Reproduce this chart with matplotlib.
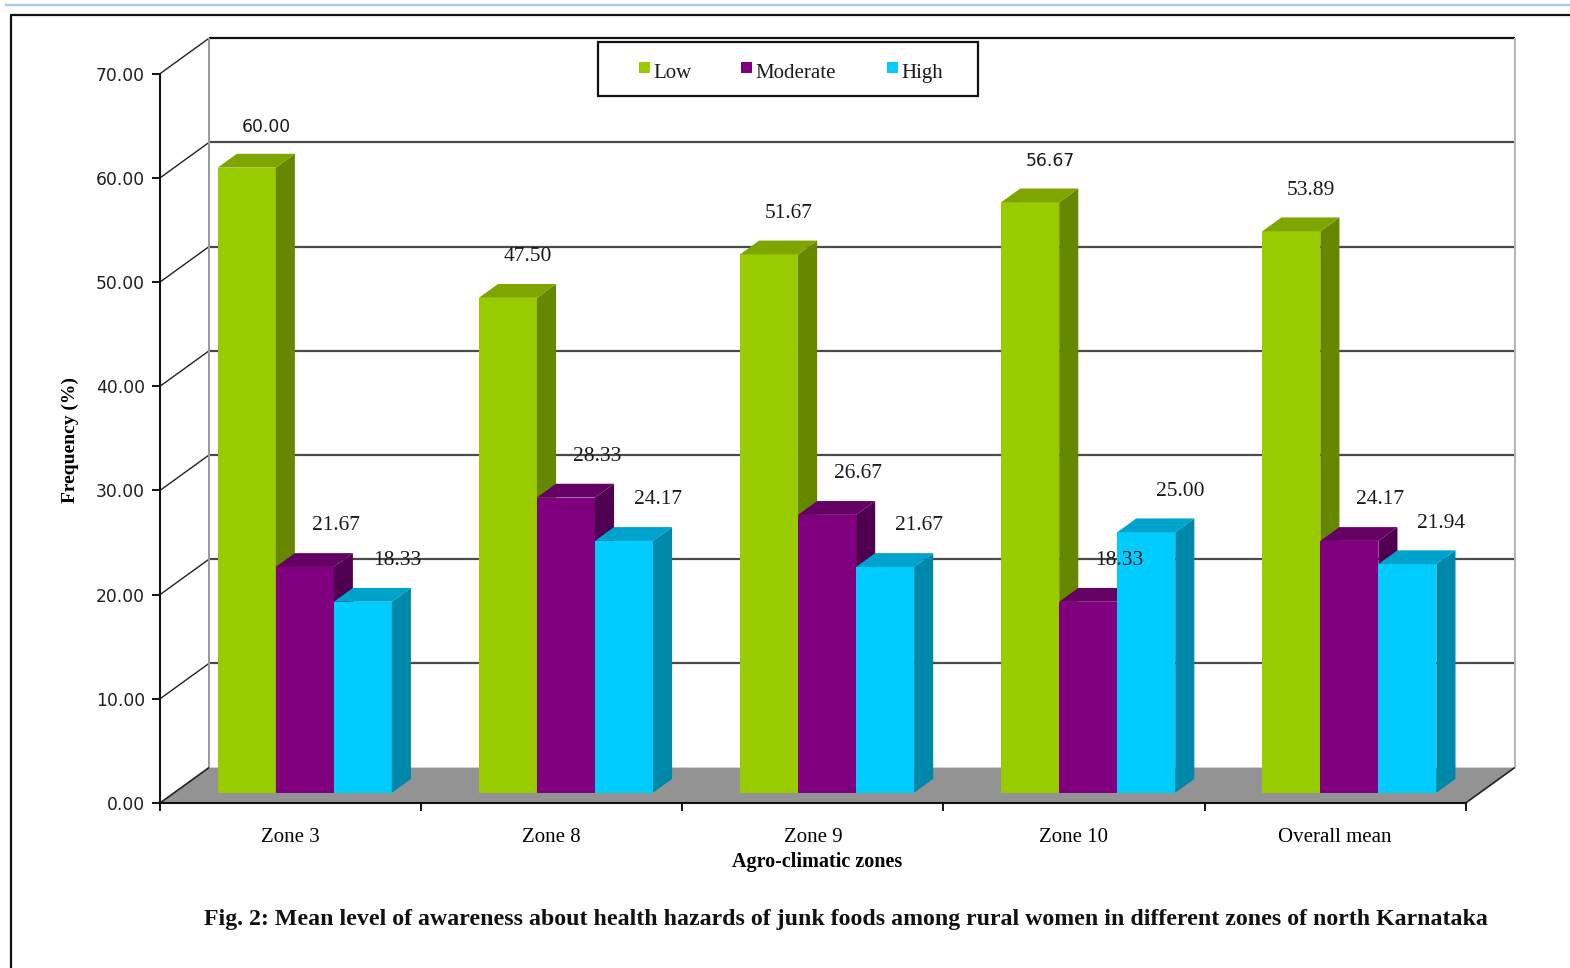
import matplotlib
matplotlib.use("Agg")
import matplotlib.pyplot as plt
from matplotlib.patches import Polygon, Rectangle
from matplotlib.lines import Line2D

# ---- data -----------------------------------------------------------------
categories = ["Zone 3", "Zone 8", "Zone 9", "Zone 10", "Overall mean"]
series_names = ["Low", "Moderate", "High"]
low = [60.00, 47.50, 51.67, 56.67, 53.89]
moderate = [21.67, 28.33, 26.67, 18.33, 24.17]
high = [18.33, 24.17, 21.67, 25.00, 21.94]
y_ticks = [0, 10, 20, 30, 40, 50, 60, 70]

series_values = [low, moderate, high]
# (front, top, side) shades of each series
series_colors = [
    ("#99CC00", "#7DA600", "#668800"),
    ("#800080", "#650065", "#500050"),
    ("#00CCFF", "#00A3CC", "#0088AA"),
]
# labels that the source chart printed in a sans face
sans_labels = {("Low", "Zone 3"), ("Low", "Zone 10")}

W, H = 1570, 968
fig = plt.figure(figsize=(W / 100, H / 100), dpi=100)
fig.patch.set_facecolor("white")


def fx(px):
    return px / W


def fy(py):
    return 1 - py / H


# page decoration: thin blue rule and black frame
fig.add_artist(Line2D([fx(6), 1], [fy(5), fy(5)], color="#A9C6EE", lw=1.6,
                      transform=fig.transFigure))
fig.add_artist(Line2D([fx(11), fx(11), 1], [0, fy(15), fy(15)], color="#111111",
                      lw=1.6, transform=fig.transFigure))

n = len(categories)
ax = fig.add_axes([fx(160), fy(803), (1465.7 - 160) / W, (803 - 73.7) / H])
ax.set_xlim(0, n)
ax.set_ylim(0, 70)
ax.patch.set_visible(False)

DX, DY = 0.1876, 3.40      # oblique offset of the back wall (data units)
D_FRONT, D_BACK = 0.29, 0.68  # depth range occupied by the columns


def P(x, v, d):
    return (x + d * DX, v + d * DY)


def poly(pts, fc, z, ec="none", lw=0):
    ax.add_patch(Polygon(pts, closed=True, facecolor=fc, edgecolor=ec,
                         linewidth=lw, zorder=z, clip_on=False))


def seg(p, q, color, lw, z=1):
    ax.add_line(Line2D([p[0], q[0]], [p[1], q[1]], color=color, linewidth=lw,
                       zorder=z, clip_on=False, solid_capstyle="butt"))


# walls
for v in y_ticks[1:]:
    col = "#111111" if v == y_ticks[-1] else "#4a4a4a"
    seg(P(0, v, 1), P(n, v, 1), col, 1.6, z=1)
    seg(P(0, v, 0), P(0, v, 1), "#222222", 1.0, z=1)
seg(P(0, 0, 1), P(0, y_ticks[-1], 1), "#9a9a9a", 1.4, z=1)
seg(P(n, 0, 1), P(n, y_ticks[-1], 1), "#b4b4b4", 1.4, z=1)

# floor
poly([P(0, 0, 0), P(n, 0, 0), P(n, 0, 1), P(0, 0, 1)], "#939393", z=2)
seg(P(0, 0, 0), P(0, 0, 1), "#222222", 1.2, z=2.2)
seg(P(n, 0, 0), P(n, 0, 1), "#222222", 1.2, z=2.2)

# columns
bw = 2 / 9
z = 3.0
for i, cat in enumerate(categories):
    for j, vals in enumerate(series_values):
        v = vals[i]
        front, top, side = series_colors[j]
        x0 = i + 1 / 6 + j * bw
        x1 = x0 + bw
        poly([P(x0, 0, D_FRONT), P(x1, 0, D_FRONT), P(x1, v, D_FRONT), P(x0, v, D_FRONT)], front, z)
        poly([P(x1, 0, D_FRONT), P(x1, 0, D_BACK), P(x1, v, D_BACK), P(x1, v, D_FRONT)], side, z + 0.01)
        poly([P(x0, v, D_FRONT), P(x1, v, D_FRONT), P(x1, v, D_BACK), P(x0, v, D_BACK)], top, z + 0.02)
        z += 0.05

# value labels
label_dx = [14.4, 22.3, 24.5]   # points, per series
label_dy = 29.5
for i, cat in enumerate(categories):
    for j, vals in enumerate(series_values):
        v = vals[i]
        xc = i + 1 / 6 + (j + 0.5) * bw
        sans = (series_names[j], cat) in sans_labels
        ax.annotate(f"{v:.2f}", xy=P(xc, v, D_FRONT), xytext=(label_dx[j], label_dy),
                    textcoords="offset points", ha="center", va="center",
                    fontsize=12.3 if sans else 15.5,
                    family="DejaVu Sans" if sans else "Liberation Serif",
                    color="#1a1a1a", annotation_clip=False, zorder=20)

# axes
for s in ("top", "right"):
    ax.spines[s].set_visible(False)
for s in ("left", "bottom"):
    ax.spines[s].set_color("#111111")
    ax.spines[s].set_linewidth(1.5)
    ax.spines[s].set_zorder(2.5)

ax.set_yticks(y_ticks)
ax.set_yticklabels([f"{v:.2f}" for v in y_ticks], family="DejaVu Sans",
                   fontsize=12.3, color="#1f1f1f")
ax.tick_params(axis="y", direction="out", length=5.8, width=1.3, pad=5)

ax.set_xticks(range(n + 1))
ax.set_xticklabels([""] * (n + 1))
ax.tick_params(axis="x", which="major", direction="out", length=5.8, width=1.3)
ax.set_xticks([i + 0.5 for i in range(n)], minor=True)
ax.set_xticklabels(categories, minor=True, family="Liberation Serif", fontsize=15)
ax.tick_params(axis="x", which="minor", length=0, pad=18)

ax.set_xlabel("Agro-climatic zones", family="Liberation Serif", fontweight="bold",
              fontsize=14.5)
ax.xaxis.set_label_coords((817.5 - 160) / 1305.7, (803 - 862) / 729.3)
ax.xaxis.label.set_va("center")
ax.set_ylabel("Frequency (%)", family="Liberation Serif", fontweight="bold",
              fontsize=14)
ax.yaxis.set_label_coords((70 - 160) / 1305.7, (803 - 440) / 729.3)
ax.yaxis.label.set_va("center")

# legend box
fig.add_artist(Rectangle((fx(598), fy(96)), (978 - 598) / W, (96 - 42) / H,
                         transform=fig.transFigure, facecolor="white",
                         edgecolor="#111111", lw=1.6, zorder=30))
legend_x = [639, 741, 887]
for name, (front, _, _), lx in zip(series_names, series_colors, legend_x):
    fig.add_artist(Rectangle((fx(lx), fy(73)), 11 / W, 11 / H, transform=fig.transFigure,
                             facecolor=front, edgecolor="none", zorder=31))
    fig.text(fx(lx + 14), fy(78), name, family="Liberation Serif", fontsize=15,
             ha="left", va="baseline", color="#1a1a1a", zorder=32)

# caption, sized to its line width
cap = fig.text(fx(846), fy(920),
               "Fig. 2: Mean level of awareness about health hazards of junk foods "
               "among rural women in different zones of north Karnataka",
               family="Liberation Serif", fontweight="bold", fontsize=15,
               ha="center", va="center", color="#111111")
fig.canvas.draw()
w = cap.get_window_extent().width
cap.set_fontsize(15 * (1487 - 205) / w)

fig.savefig("out.png", dpi=100, facecolor="white")
